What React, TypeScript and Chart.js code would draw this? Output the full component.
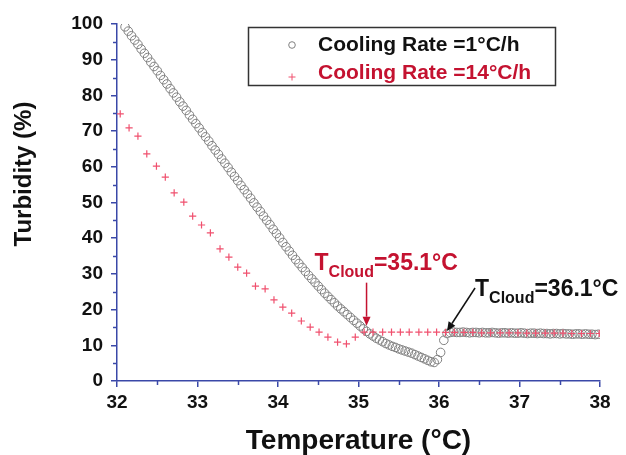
import React, { useEffect, useRef } from "react";
import { Chart, registerables } from "chart.js";

Chart.register(...registerables);

// ---------- data ----------
const circleTemp = [
  32.10, 32.14, 32.18, 32.22, 32.26, 32.30, 32.34, 32.38, 32.42, 32.46,
  32.50, 32.54, 32.58, 32.62, 32.66, 32.70, 32.74, 32.78, 32.82, 32.86,
  32.90, 32.94, 32.98, 33.02, 33.06, 33.10, 33.14, 33.18, 33.22, 33.26,
  33.30, 33.34, 33.38, 33.42, 33.46, 33.50, 33.54, 33.58, 33.62, 33.66,
  33.70, 33.74, 33.78, 33.82, 33.86, 33.90, 33.94, 33.98, 34.02, 34.06,
  34.10, 34.14, 34.18, 34.22, 34.26, 34.30, 34.34, 34.38, 34.42, 34.46,
  34.50, 34.54, 34.58, 34.62, 34.66, 34.70, 34.74, 34.78, 34.82, 34.86,
  34.90, 34.94, 34.98, 35.02, 35.06, 35.10, 35.14, 35.18, 35.22, 35.26,
  35.30, 35.34, 35.38, 35.42, 35.46, 35.50, 35.54, 35.58, 35.62, 35.66,
  35.70, 35.74, 35.78, 35.82, 35.86, 35.90, 35.94, 35.98, 36.02, 36.06,
  36.10, 36.14, 36.18, 36.22, 36.26, 36.30, 36.34, 36.38, 36.42, 36.46,
  36.50, 36.54, 36.58, 36.62, 36.66, 36.70, 36.74, 36.78, 36.82, 36.86,
  36.90, 36.94, 36.98, 37.02, 37.06, 37.10, 37.14, 37.18, 37.22, 37.26,
  37.30, 37.34, 37.38, 37.42, 37.46, 37.50, 37.54, 37.58, 37.62, 37.66,
  37.70, 37.74, 37.78, 37.82, 37.86, 37.90, 37.94, 37.98,
];
const circleTurbidity = [
  99.2, 98.0, 96.7, 95.5, 94.3, 93.0, 91.8, 90.6, 89.3, 88.1,
  86.9, 85.6, 84.4, 83.2, 81.9, 80.7, 79.5, 78.2, 77.0, 75.8,
  74.5, 73.3, 72.1, 70.9, 69.6, 68.4, 67.2, 65.9, 64.7, 63.5,
  62.2, 61.0, 59.8, 58.5, 57.3, 56.1, 54.8, 53.6, 52.4, 51.2,
  49.9, 48.7, 47.5, 46.2, 45.0, 43.8, 42.5, 41.3, 40.1, 38.8,
  37.6, 36.4, 35.2, 34.0, 32.9, 31.8, 30.7, 29.6, 28.6, 27.6,
  26.6, 25.6, 24.6, 23.7, 22.8, 21.9, 21.0, 20.2, 19.4, 18.6,
  17.8, 17.0, 16.2, 15.4, 14.6, 13.9, 13.2, 12.6, 12.0, 11.5,
  11.0, 10.5, 10.1, 9.7, 9.4, 9.0, 8.7, 8.4, 8.1, 7.8,
  7.4, 7.0, 6.6, 6.2, 5.8, 5.4, 5.2, 6.0, 8.0, 11.4,
  13.3, 13.6, 13.7, 13.6, 13.6, 13.7, 13.6, 13.5, 13.6, 13.6,
  13.5, 13.6, 13.5, 13.5, 13.6, 13.5, 13.4, 13.5, 13.5, 13.4,
  13.5, 13.4, 13.4, 13.5, 13.4, 13.3, 13.4, 13.4, 13.3, 13.4,
  13.3, 13.3, 13.2, 13.3, 13.3, 13.2, 13.3, 13.2, 13.2, 13.1,
  13.2, 13.2, 13.1, 13.2, 13.1, 13.1, 13.0, 13.1,
];

const crossTemp = [
  32.04, 32.15, 32.26, 32.37, 32.49, 32.60, 32.71, 32.83, 32.94, 33.05,
  33.16, 33.28, 33.39, 33.50, 33.61, 33.72, 33.84, 33.95, 34.06, 34.17,
  34.29, 34.40, 34.51, 34.62, 34.74, 34.85, 34.96, 35.07, 35.18, 35.30,
  35.41, 35.52, 35.63, 35.75, 35.86, 35.97, 36.08, 36.19, 36.31, 36.42,
  36.53, 36.64, 36.76, 36.87, 36.98, 37.09, 37.20, 37.32, 37.43, 37.54,
  37.65, 37.77, 37.88, 37.99,
];
const crossTurbidity = [
  74.8, 70.9, 68.6, 63.6, 60.2, 57.1, 52.7, 50.1, 46.2, 43.7,
  41.5, 37.0, 34.7, 31.9, 30.2, 26.6, 25.8, 22.7, 20.7, 19.0,
  16.8, 15.1, 13.7, 12.3, 10.9, 10.4, 12.3, 13.7, 13.7, 13.7,
  13.7, 13.7, 13.7, 13.7, 13.7, 13.7, 13.6, 13.6, 13.6, 13.6,
  13.5, 13.5, 13.5, 13.5, 13.5, 13.4, 13.4, 13.4, 13.4, 13.4,
  13.3, 13.3, 13.3, 13.3,
];

const seriesNames = ["Cooling Rate =1°C/h", "Cooling Rate =14°C/h"];
const xMinorTicks = [32.5, 33.5, 34.5, 35.5, 36.5, 37.5];
const yMinorTicks = [5, 15, 25, 35, 45, 55, 65, 75, 85, 95];
const cloudPoints = [35.1, 36.1];
const cloudLabels = ["=35.1°C", "=36.1°C"];
const xTitle = "Temperature (°C)";
const yTitle = "Turbidity (%)";

// ---------- styles ----------
const FONT = 'Arial, "Liberation Sans", Helvetica, sans-serif';
const AXIS = "#3a48a8";
const CIRCLE = "#808080";
const CROSS = "#f0506e";
const RED = "#c41230";
const BLACK = "#111111";

function arrow(ctx: CanvasRenderingContext2D, x0: number, y0: number, x1: number, y1: number, color: string) {
  const dx = x1 - x0, dy = y1 - y0;
  const len = Math.hypot(dx, dy);
  const ux = dx / len, uy = dy / len;
  const hl = 9, hw = 4;
  const bx = x1 - ux * hl, by = y1 - uy * hl;
  ctx.strokeStyle = color;
  ctx.fillStyle = color;
  ctx.lineWidth = 1.5;
  ctx.beginPath();
  ctx.moveTo(x0, y0);
  ctx.lineTo(bx, by);
  ctx.stroke();
  ctx.beginPath();
  ctx.moveTo(x1, y1);
  ctx.lineTo(bx - uy * hw, by + ux * hw);
  ctx.lineTo(bx + uy * hw, by - ux * hw);
  ctx.closePath();
  ctx.fill();
}

function cloudText(ctx: CanvasRenderingContext2D, x: number, baseline: number, rest: string, color: string) {
  ctx.fillStyle = color;
  ctx.textAlign = "left";
  ctx.textBaseline = "alphabetic";
  ctx.font = `bold 23px ${FONT}`;
  ctx.fillText("T", x, baseline);
  const w1 = ctx.measureText("T").width;
  ctx.font = `bold 16px ${FONT}`;
  ctx.fillText("Cloud", x + w1, baseline + 7);
  const w2 = ctx.measureText("Cloud").width;
  ctx.font = `bold 23px ${FONT}`;
  ctx.fillText(rest, x + w1 + w2, baseline);
}

const overlay = {
  id: "overlay",
  afterDraw(chart: any) {
    const ctx: CanvasRenderingContext2D = chart.ctx;
    const xs = chart.scales.x;
    const ys = chart.scales.y;
    const ca = chart.chartArea;
    ctx.save();

    // minor ticks
    ctx.strokeStyle = AXIS;
    ctx.lineWidth = 1.5;
    for (const v of xMinorTicks) {
      const px = Math.round(xs.getPixelForValue(v)) + 0.5;
      ctx.beginPath();
      ctx.moveTo(px, ca.bottom);
      ctx.lineTo(px, ca.bottom + 4);
      ctx.stroke();
    }
    for (const v of yMinorTicks) {
      const py = Math.round(ys.getPixelForValue(v)) + 0.5;
      ctx.beginPath();
      ctx.moveTo(ca.left, py);
      ctx.lineTo(ca.left - 4, py);
      ctx.stroke();
    }

    // y-axis title
    ctx.save();
    ctx.translate(24, 174);
    ctx.rotate(-Math.PI / 2);
    ctx.fillStyle = BLACK;
    ctx.font = `bold 24px ${FONT}`;
    ctx.textAlign = "center";
    ctx.textBaseline = "middle";
    ctx.fillText(yTitle, 0, 0);
    ctx.restore();

    // legend
    ctx.strokeStyle = "#333";
    ctx.lineWidth = 1.5;
    ctx.strokeRect(248.5, 27.5, 307, 58);
    ctx.strokeStyle = CIRCLE;
    ctx.lineWidth = 1;
    ctx.beginPath();
    ctx.arc(292, 45, 3.3, 0, Math.PI * 2);
    ctx.stroke();
    ctx.strokeStyle = CROSS;
    ctx.beginPath();
    ctx.moveTo(288.5, 77); ctx.lineTo(295.5, 77);
    ctx.moveTo(292, 73.5); ctx.lineTo(292, 80.5);
    ctx.stroke();
    ctx.font = `bold 21px ${FONT}`;
    ctx.textAlign = "left";
    ctx.textBaseline = "middle";
    ctx.fillStyle = BLACK;
    ctx.fillText(seriesNames[0], 318, 45);
    ctx.fillStyle = RED;
    ctx.fillText(seriesNames[1], 318, 73);

    // annotations
    const rx = xs.getPixelForValue(cloudPoints[0]);
    const ry = ys.getPixelForValue(15.5);
    arrow(ctx, rx, ry - 43, rx, ry, RED);
    cloudText(ctx, rx - 52, ry - 56, cloudLabels[0], RED);

    const bx = xs.getPixelForValue(cloudPoints[1]);
    const by = ys.getPixelForValue(14.0);
    arrow(ctx, bx + 28, by - 43, bx, by, BLACK);
    cloudText(ctx, bx + 28, by - 35, cloudLabels[1], BLACK);

    ctx.restore();
  },
};

export default function App() {
  const ref = useRef<HTMLCanvasElement | null>(null);
  useEffect(() => {
    if (!ref.current) return;
    Chart.defaults.font.family = FONT;
    const chart = new Chart(ref.current, {
      type: "scatter",
      data: {
        datasets: [
          {
            label: seriesNames[0],
            data: circleTemp.map((x, i) => ({ x, y: circleTurbidity[i] })),
            pointStyle: "circle",
            pointRadius: 4.3,
            borderColor: CIRCLE,
            backgroundColor: "rgba(255,255,255,0)",
            borderWidth: 1,
            order: 1,
          },
          {
            label: seriesNames[1],
            data: crossTemp.map((x, i) => ({ x, y: crossTurbidity[i] })),
            pointStyle: "cross",
            pointRadius: 3.6,
            borderColor: CROSS,
            backgroundColor: CROSS,
            borderWidth: 1.2,
            order: 0,
          },
        ],
      },
      options: {
        animation: false,
        responsive: false,
        layout: { padding: { left: 0, top: 24, right: 26, bottom: 0 } },
        plugins: { legend: { display: false }, tooltip: { enabled: false } },
        scales: {
          x: {
            type: "linear",
            min: 32,
            max: 38,
            afterFit: (s: any) => { s.height = 74; },
            ticks: {
              stepSize: 1,
              padding: 4,
              color: BLACK,
              font: { size: 19, weight: "bold" },
              maxRotation: 0,
            },
            grid: { drawOnChartArea: false, drawTicks: true, tickLength: 6, color: AXIS, lineWidth: 1.5 },
            border: { display: true, color: AXIS, width: 1.5 },
            title: {
              display: true,
              text: xTitle,
              color: BLACK,
              font: { size: 28, weight: "bold", lineHeight: 1 },
              padding: { top: 0, bottom: 0 },
            },
          },
          y: {
            type: "linear",
            min: 0,
            max: 100,
            afterFit: (s: any) => { s.width = 117; },
            ticks: {
              stepSize: 10,
              padding: 8,
              color: BLACK,
              font: { size: 19, weight: "bold" },
            },
            grid: { drawOnChartArea: false, drawTicks: true, tickLength: 6, color: AXIS, lineWidth: 1.5 },
            border: { display: true, color: AXIS, width: 1.5 },
          },
        },
      },
      plugins: [overlay],
    } as any);
    return () => chart.destroy();
  }, []);
  return (
    <div style={{ position: "absolute", left: 0, top: 0, width: 626, height: 455, background: "#fff" }}>
      <canvas ref={ref} width={626} height={455} style={{ display: "block" }} />
    </div>
  );
}
